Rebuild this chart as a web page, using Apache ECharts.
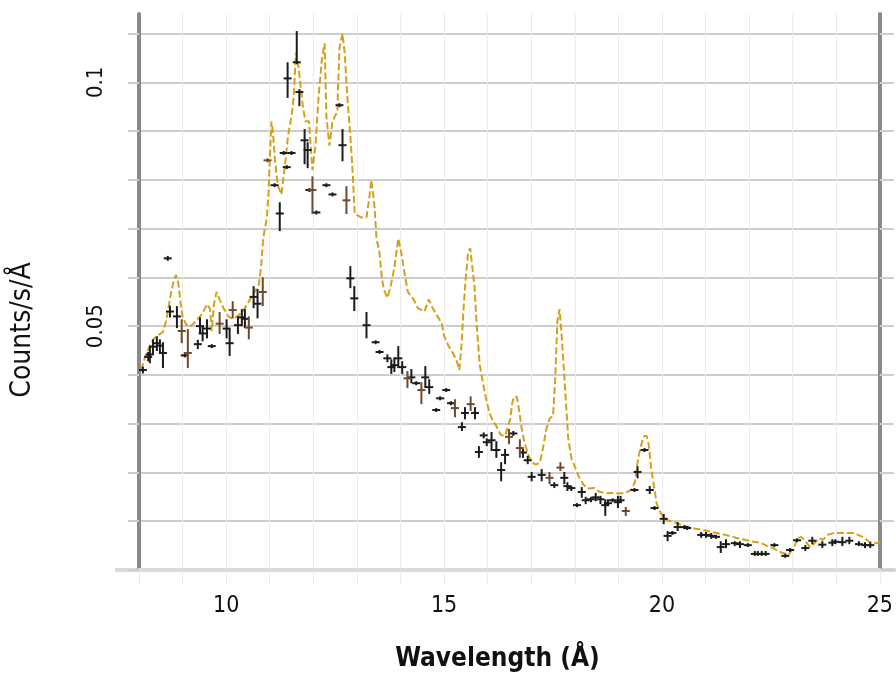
<!DOCTYPE html>
<html>
<head>
<meta charset="utf-8">
<title>Spectrum</title>
<script src="https://cdn.jsdelivr.net/npm/echarts@6/dist/echarts.min.js"></script>
<style>
  html, body { margin: 0; padding: 0; background: #fff; }
  #chart { width: 896px; height: 677px; }
</style>
</head>
<body>
<div id="chart"></div>
<script>
// axis ticks
const xLabelValues = [10, 15, 20, 25];
const yLabelValues = [0.05, 0.1];
const yGridValues = [0, 0.01, 0.02, 0.03, 0.04, 0.05, 0.06, 0.07, 0.08, 0.09, 0.1, 0.11];

// observed points: [wavelength, rate, low, high]
const blackPoints = [
  [8.09, 0.0410, 0.0405, 0.0415], [8.21, 0.0437, 0.0430, 0.0445], [8.25, 0.0442, 0.0426, 0.0457],
  [8.32, 0.0458, 0.0445, 0.0471], [8.41, 0.0465, 0.0451, 0.0477], [8.48, 0.0460, 0.0445, 0.0471],
  [8.55, 0.0445, 0.0416, 0.0465], [8.66, 0.0639, 0.0636, 0.0642], [8.71, 0.0530, 0.0520, 0.0540],
  [8.87, 0.0520, 0.0498, 0.0539], [9.05, 0.0440, 0.0438, 0.0442], [9.35, 0.0463, 0.0455, 0.0470],
  [9.40, 0.0500, 0.0486, 0.0516], [9.46, 0.0485, 0.0471, 0.0498], [9.56, 0.0495, 0.0477, 0.0512],
  [9.67, 0.0459, 0.0457, 0.0461], [10.01, 0.0495, 0.0477, 0.0512], [10.08, 0.0465, 0.0441, 0.0492],
  [10.27, 0.0502, 0.0486, 0.0518], [10.36, 0.0518, 0.0502, 0.0533], [10.43, 0.0515, 0.0498, 0.0533],
  [10.63, 0.0560, 0.0539, 0.0580], [10.72, 0.0546, 0.0518, 0.0574],
  [11.11, 0.0789, 0.0787, 0.0791], [11.23, 0.0731, 0.0697, 0.0752], [11.32, 0.0855, 0.0853, 0.0857],
  [11.39, 0.0826, 0.0824, 0.0828], [11.41, 0.1008, 0.0970, 0.1039], [11.50, 0.0855, 0.0853, 0.0857],
  [11.62, 0.1041, 0.1039, 0.1103], [11.68, 0.0980, 0.0953, 0.0984], [11.80, 0.0881, 0.0834, 0.0902],
  [11.87, 0.0861, 0.0826, 0.0875], [11.91, 0.0779, 0.0777, 0.0781], [12.07, 0.0733, 0.0731, 0.0735],
  [12.30, 0.0789, 0.0787, 0.0791], [12.44, 0.0770, 0.0768, 0.0772], [12.60, 0.0953, 0.0951, 0.0955],
  [12.67, 0.0871, 0.0840, 0.0902],
  [12.85, 0.0598, 0.0580, 0.0621], [12.94, 0.0557, 0.0533, 0.0580], [13.22, 0.0502, 0.0477, 0.0527],
  [13.43, 0.0467, 0.0465, 0.0469], [13.52, 0.0447, 0.0445, 0.0449], [13.70, 0.0434, 0.0428, 0.0440],
  [13.79, 0.0416, 0.0404, 0.0430], [13.86, 0.0420, 0.0408, 0.0434], [13.95, 0.0434, 0.0416, 0.0457],
  [14.04, 0.0416, 0.0404, 0.0426], [14.25, 0.0395, 0.0385, 0.0410], [14.36, 0.0383, 0.0381, 0.0385],
  [14.57, 0.0395, 0.0375, 0.0416], [14.66, 0.0375, 0.0363, 0.0389], [14.82, 0.0328, 0.0326, 0.0330],
  [14.91, 0.0352, 0.0350, 0.0354], [15.05, 0.0369, 0.0367, 0.0371], [15.16, 0.0342, 0.0340, 0.0344],
  [15.41, 0.0293, 0.0287, 0.0301], [15.48, 0.0322, 0.0311, 0.0332], [15.71, 0.0322, 0.0311, 0.0332],
  [15.80, 0.0242, 0.0232, 0.0252], [15.91, 0.0276, 0.0272, 0.0280], [15.98, 0.0262, 0.0256, 0.0268],
  [16.09, 0.0266, 0.0246, 0.0281], [16.20, 0.0246, 0.0232, 0.0262], [16.31, 0.0205, 0.0184, 0.0219],
  [16.40, 0.0236, 0.0219, 0.0246], [16.59, 0.0280, 0.0277, 0.0283], [16.81, 0.0241, 0.0232, 0.0246],
  [16.92, 0.0225, 0.0219, 0.0232], [17.01, 0.0191, 0.0184, 0.0199], [17.24, 0.0195, 0.0184, 0.0205],
  [17.53, 0.0174, 0.0170, 0.0178], [17.76, 0.0189, 0.0178, 0.0199], [17.83, 0.0172, 0.0164, 0.0178],
  [17.92, 0.0168, 0.0164, 0.0170], [18.05, 0.0133, 0.0131, 0.0135], [18.16, 0.0160, 0.0150, 0.0168],
  [18.25, 0.0143, 0.0137, 0.0148], [18.37, 0.0145, 0.0141, 0.0148], [18.48, 0.0149, 0.0143, 0.0156],
  [18.59, 0.0145, 0.0137, 0.0150], [18.70, 0.0133, 0.0113, 0.0143], [18.76, 0.0137, 0.0133, 0.0143],
  [18.87, 0.0143, 0.0141, 0.0145], [18.99, 0.0139, 0.0129, 0.0150], [19.05, 0.0143, 0.0141, 0.0150],
  [19.37, 0.0164, 0.0162, 0.0166], [19.44, 0.0201, 0.0190, 0.0211], [19.60, 0.0246, 0.0244, 0.0248],
  [19.72, 0.0164, 0.0158, 0.0170], [19.83, 0.0127, 0.0125, 0.0129], [20.04, 0.0105, 0.0096, 0.0113],
  [20.13, 0.0070, 0.0061, 0.0078], [20.24, 0.0076, 0.0074, 0.0078], [20.36, 0.0088, 0.0082, 0.0096],
  [20.52, 0.0088, 0.0086, 0.0090], [20.58, 0.0086, 0.0084, 0.0088], [20.90, 0.0072, 0.0068, 0.0076],
  [21.01, 0.0072, 0.0068, 0.0076], [21.13, 0.0070, 0.0066, 0.0074], [21.24, 0.0068, 0.0066, 0.0070],
  [21.35, 0.0047, 0.0037, 0.0057], [21.47, 0.0053, 0.0047, 0.0061], [21.67, 0.0055, 0.0051, 0.0057],
  [21.79, 0.0053, 0.0047, 0.0057], [21.97, 0.0051, 0.0049, 0.0053], [22.13, 0.0033, 0.0031, 0.0037],
  [22.20, 0.0033, 0.0031, 0.0037], [22.29, 0.0033, 0.0031, 0.0037], [22.38, 0.0033, 0.0031, 0.0037],
  [22.58, 0.0051, 0.0049, 0.0053], [22.83, 0.0029, 0.0027, 0.0031], [22.94, 0.0041, 0.0039, 0.0043],
  [23.10, 0.0061, 0.0059, 0.0063], [23.29, 0.0045, 0.0041, 0.0049], [23.45, 0.0060, 0.0055, 0.0066],
  [23.68, 0.0052, 0.0047, 0.0057], [23.91, 0.0056, 0.0051, 0.0061], [23.98, 0.0058, 0.0055, 0.0061],
  [24.14, 0.0057, 0.0051, 0.0066], [24.30, 0.0060, 0.0055, 0.0066], [24.52, 0.0053, 0.0051, 0.0057],
  [24.66, 0.0051, 0.0047, 0.0055], [24.78, 0.0051, 0.0047, 0.0055]
];

// second instrument, drawn brown
const brownPoints = [
  [8.98, 0.0490, 0.0467, 0.0512], [9.12, 0.0445, 0.0416, 0.0492], [9.85, 0.0505, 0.0486, 0.0527],
  [10.15, 0.0533, 0.0518, 0.0549], [10.52, 0.0497, 0.0475, 0.0518], [10.84, 0.0570, 0.0543, 0.0598],
  [10.95, 0.0840, 0.0838, 0.0842], [11.98, 0.0779, 0.0732, 0.0805], [12.76, 0.0758, 0.0732, 0.0785],
  [14.16, 0.0393, 0.0375, 0.0406], [14.48, 0.0369, 0.0342, 0.0383], [15.25, 0.0332, 0.0315, 0.0348],
  [15.61, 0.0340, 0.0328, 0.0354], [16.49, 0.0273, 0.0260, 0.0287], [16.74, 0.0250, 0.0232, 0.0266],
  [17.42, 0.0189, 0.0178, 0.0199], [17.67, 0.0210, 0.0205, 0.0219], [19.17, 0.0121, 0.0113, 0.0127]
];

// folded model
const modelX = [
  8.05, 8.15, 8.25, 8.35, 8.45, 8.55, 8.62, 8.68, 8.74, 8.8, 8.85, 8.9, 8.95, 9.0, 9.07, 9.15,
  9.25, 9.35, 9.45, 9.56, 9.63, 9.67, 9.72, 9.78, 9.85, 9.95, 10.05, 10.15, 10.25, 10.35, 10.45,
  10.55, 10.65, 10.75, 10.8, 10.85, 10.93, 10.97, 11.0, 11.04, 11.07, 11.12, 11.18, 11.27, 11.35,
  11.42, 11.5, 11.55, 11.6, 11.65, 11.71, 11.76, 11.82, 11.9, 11.98, 12.05, 12.12, 12.2, 12.26,
  12.3, 12.37, 12.44, 12.55, 12.6, 12.67, 12.72, 12.78, 12.85, 12.9, 12.95, 13.1, 13.22, 13.28,
  13.33, 13.4, 13.45, 13.52, 13.57, 13.62, 13.7, 13.77, 13.86, 13.95, 14.02, 14.1, 14.17, 14.3,
  14.4, 14.55, 14.65, 14.75, 14.85, 14.95, 15.0, 15.1, 15.2, 15.28, 15.35, 15.4, 15.45, 15.5,
  15.55, 15.6, 15.7, 15.75, 15.82, 15.9, 15.98, 16.05, 16.1, 16.2, 16.3, 16.4, 16.45, 16.52,
  16.56, 16.6, 16.67, 16.72, 16.78, 16.85, 16.92, 17.0, 17.1, 17.2, 17.27, 17.35, 17.43, 17.5,
  17.55, 17.6, 17.65, 17.7, 17.75, 17.8, 17.85, 17.92, 18.0, 18.1, 18.2, 18.3, 18.45, 18.55,
  18.7, 18.85, 19.0, 19.15, 19.3, 19.38, 19.42, 19.48, 19.55, 19.6, 19.65, 19.7, 19.75, 19.83,
  19.88, 19.97, 20.07, 20.2, 20.35, 20.5, 20.75, 21.0, 21.25, 21.45, 21.7, 21.9, 22.1, 22.25,
  22.4, 22.55, 22.7, 22.82, 22.9, 22.97, 23.05, 23.1, 23.2, 23.3, 23.4, 23.5, 23.6, 23.7, 23.8,
  23.95, 24.2, 24.4, 24.5, 24.65, 24.75, 24.9, 25.0
];
const modelY = [
  0.041, 0.044, 0.046, 0.0475, 0.0482, 0.0488, 0.051, 0.054, 0.057, 0.0595, 0.0605, 0.059, 0.055,
  0.052, 0.0505, 0.0498, 0.0505, 0.0515, 0.0525, 0.0545, 0.0535, 0.049, 0.0545, 0.057, 0.0555,
  0.0535, 0.052, 0.0515, 0.052, 0.0527, 0.054, 0.0555, 0.057, 0.0585, 0.062, 0.068, 0.072, 0.077,
  0.084, 0.092, 0.09, 0.084, 0.079, 0.077, 0.083, 0.089, 0.093, 0.097, 0.106, 0.104, 0.099, 0.095,
  0.092, 0.092, 0.082, 0.087, 0.097, 0.105, 0.108, 0.093, 0.087, 0.092, 0.094, 0.107, 0.110, 0.106,
  0.097, 0.089, 0.082, 0.073, 0.0723, 0.0723, 0.076, 0.080, 0.075, 0.068, 0.065, 0.060, 0.0575,
  0.0558, 0.058, 0.062, 0.068, 0.065, 0.0605, 0.057, 0.0555, 0.0537, 0.053, 0.0555, 0.0535, 0.052,
  0.0505, 0.048, 0.046, 0.0445, 0.0432, 0.041, 0.046, 0.054, 0.06, 0.065, 0.066, 0.058, 0.05,
  0.042, 0.038, 0.0345, 0.032, 0.031, 0.0295, 0.0277, 0.0275, 0.029, 0.031, 0.034, 0.0355, 0.0355,
  0.033, 0.029, 0.026, 0.024, 0.0222, 0.0216, 0.022, 0.025, 0.029, 0.0312, 0.0315, 0.039, 0.051,
  0.0535, 0.048, 0.041, 0.034, 0.027, 0.023, 0.0212, 0.019, 0.0175, 0.0167, 0.0168, 0.0161,
  0.0157, 0.0158, 0.0157, 0.0158, 0.0165, 0.018, 0.021, 0.024, 0.0265, 0.0275, 0.0275, 0.0255,
  0.021, 0.0165, 0.0135, 0.0117, 0.0104, 0.0100, 0.0096, 0.009, 0.0085, 0.0081, 0.0076, 0.0072,
  0.0066, 0.0062, 0.0058, 0.0056, 0.005, 0.0045, 0.0037, 0.0034, 0.003, 0.004, 0.005, 0.0065,
  0.0068, 0.0058, 0.0047, 0.0055, 0.0065, 0.0062, 0.0072, 0.0076, 0.0076, 0.0076, 0.0072, 0.0066,
  0.0058, 0.0055, 0.0057
];

const chart = echarts.init(document.getElementById('chart'));
const font = "'DejaVu Sans Condensed', 'Liberation Sans Narrow', 'Roboto Condensed', sans-serif";

function renderErrorBar(params, api) {
  const x = api.value(0);
  const mid = api.coord([x, api.value(1)]);
  const lo = api.coord([x, api.value(2)]);
  const hi = api.coord([x, api.value(3)]);
  const style = { stroke: api.visual('color'), lineWidth: 2 };
  return {
    type: 'group',
    children: [
      { type: 'line', shape: { x1: lo[0], y1: lo[1] + 1, x2: hi[0], y2: hi[1] - 1 }, style: style },
      { type: 'line', shape: { x1: mid[0] - 4, y1: mid[1], x2: mid[0] + 4, y2: mid[1] }, style: style }
    ]
  };
}

const gridLine = { color: '#cdcdcd', width: 2 };

chart.setOption({
  animation: false,
  grid: { left: 139, right: 14, top: 14, bottom: 107 },
  graphic: [{
    type: 'line', z: -1,
    shape: { x1: 115, y1: 570, x2: 896, y2: 570 },
    style: { stroke: '#dadada', lineWidth: 4 }
  }],
  xAxis: {
    type: 'value', min: 8, max: 25, interval: 1,
    axisLine: { show: true, onZero: false, lineStyle: { color: '#dadada', width: 4 } },
    axisTick: { show: true, length: 14, lineStyle: { color: '#ebebeb', width: 1 } },
    axisLabel: {
      customValues: xLabelValues, fontFamily: font, fontSize: 23, color: '#111', margin: 25
    },
    splitLine: { show: true, lineStyle: { color: '#ebebeb', width: 1 } },
    name: 'Wavelength (Å)', nameLocation: 'middle', nameGap: 76,
    nameTextStyle: { fontFamily: font, fontSize: 26, fontWeight: 'bold', color: '#111', padding: [0, 24, 0, 0] }
  },
  yAxis: [{
    type: 'value', min: 0, max: 0.114, position: 'left',
    axisLine: { show: true, lineStyle: { color: '#8a8a8a', width: 4 } },
    axisTick: { show: true, length: 11, customValues: yGridValues, lineStyle: gridLine },
    axisLabel: {
      customValues: yLabelValues, rotate: 90, fontFamily: font, fontSize: 22, color: '#111', margin: 32
    },
    splitLine: { show: true, lineStyle: gridLine },
    name: 'Counts/s/Å', nameLocation: 'middle', nameGap: 102, nameRotate: 90,
    nameTextStyle: { fontFamily: font, fontSize: 28, color: '#111', padding: [0, 76, 0, 0] }
  }, {
    type: 'value', min: 0, max: 0.114, position: 'right',
    axisLine: { show: true, lineStyle: { color: '#8a8a8a', width: 4 } },
    axisTick: { show: true, length: 14, customValues: yGridValues, lineStyle: gridLine },
    axisLabel: { show: false },
    splitLine: { show: false }
  }],
  series: [{
    name: 'Model',
    type: 'line',
    data: modelX.map((x, i) => [x, modelY[i]]),
    showSymbol: false,
    z: 3,
    lineStyle: { color: '#d4a11c', width: 2, type: [7, 3] }
  }, {
    name: 'Data',
    type: 'custom',
    renderItem: renderErrorBar,
    encode: { x: 0, y: [1, 2, 3] },
    itemStyle: { color: '#1c1c1c' },
    z: 4,
    data: blackPoints
  }, {
    name: 'Data 2',
    type: 'custom',
    renderItem: renderErrorBar,
    encode: { x: 0, y: [1, 2, 3] },
    itemStyle: { color: '#6e4a2e' },
    z: 4,
    data: brownPoints
  }]
});
</script>
</body>
</html>
